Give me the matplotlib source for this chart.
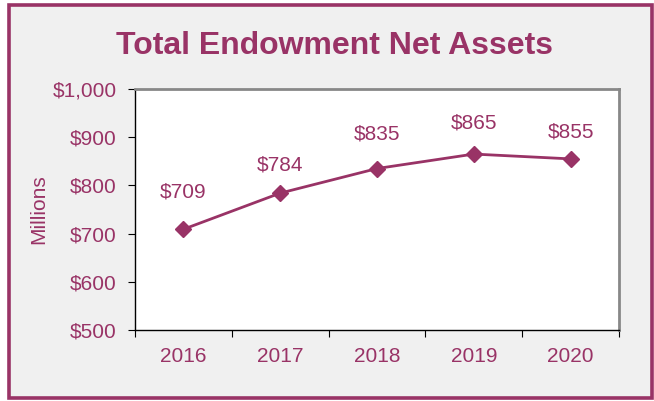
import matplotlib.pyplot as plt
from matplotlib.patches import Rectangle

years = ['2016', '2017', '2018', '2019', '2020']
assets = [709, 784, 835, 865, 855]
y_ticks = [500, 600, 700, 800, 900, 1000]

# vertical offsets (px) for the value labels, as placed in the original
label_dy = [37, 28, 35, 31, 27]

plum = '#993366'
fs = 15
plt.rcParams['font.family'] = ['Liberation Sans', 'DejaVu Sans']

fig = plt.figure(figsize=(6.54, 4.01), dpi=100)
fig.patch.set_facecolor('white')

# outer framed panel
fig.patches.append(Rectangle((9 / 654, 3 / 401), 643 / 654, 393 / 401,
                             transform=fig.transFigure, facecolor='#f0f0f0',
                             edgecolor=plum, linewidth=2.6, zorder=0))

ax = fig.add_axes([135 / 654, 1 - 330 / 401, 484 / 654, 241 / 401])
ax.set_zorder(2)
ax.set_facecolor('white')

x = list(range(len(years)))
ax.plot(x, assets, color=plum, linewidth=2, marker='D', markersize=8,
        markerfacecolor=plum, markeredgecolor=plum, clip_on=False, zorder=3)

for xi, v, dy in zip(x, assets, label_dy):
    ax.annotate(f'${v}', (xi, v), xytext=(0, dy * 0.72), textcoords='offset points',
                ha='center', va='center', fontsize=fs, color=plum)

ax.set_xlim(-0.5, 4.5)
ax.set_ylim(500, 1000)
ax.set_yticks(y_ticks)
ax.set_yticklabels([f'${v:,}' for v in y_ticks])
ax.set_xticks([i - 0.5 for i in range(len(years) + 1)])
ax.set_xticklabels([])
ax.set_xticks(x, minor=True)
ax.set_xticklabels(years, minor=True)
ax.tick_params(axis='x', which='minor', length=0, pad=12, labelsize=fs, labelcolor=plum)
ax.tick_params(axis='x', which='major', length=5, direction='out', color='black')
ax.tick_params(axis='y', length=5, direction='out', labelsize=fs, labelcolor=plum, pad=8)

for side in ['left', 'bottom']:
    ax.spines[side].set_color('black')
    ax.spines[side].set_linewidth(1)
for side in ['top', 'right']:
    ax.spines[side].set_color('#888888')
    ax.spines[side].set_linewidth(2)

ax.set_ylabel('Millions', fontsize=fs, color=plum, labelpad=3)

fig.text(335 / 654, 1 - 46 / 401, 'Total Endowment Net Assets', ha='center', va='center',
         fontsize=23, fontweight='bold', color=plum, zorder=3)

fig.savefig('out.png', dpi=100)
